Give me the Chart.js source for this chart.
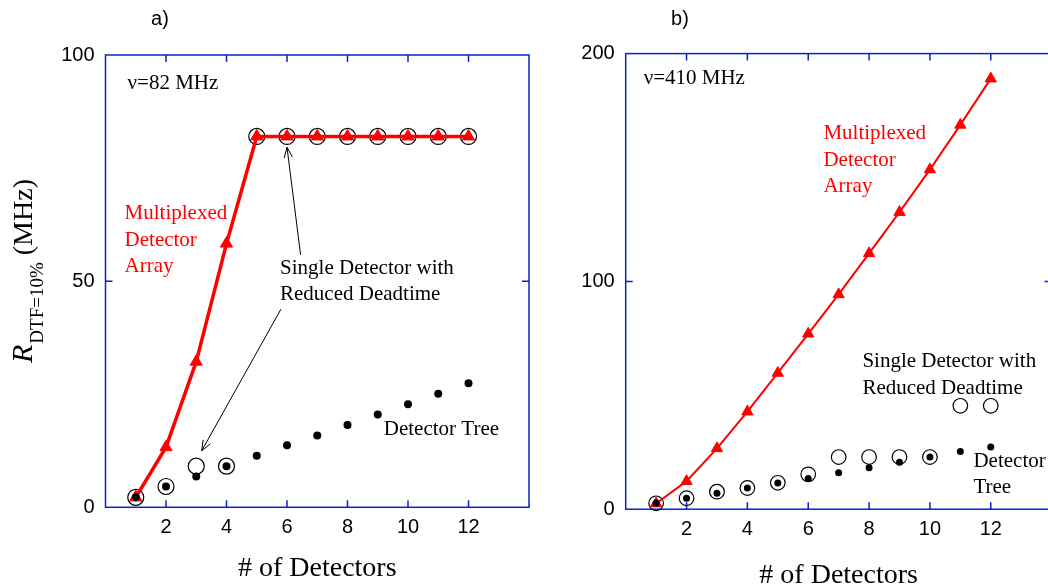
<!DOCTYPE html>
<html>
<head>
<meta charset="utf-8">
<script src="https://cdn.jsdelivr.net/npm/chart.js@4.4.1/dist/chart.umd.min.js"></script>
<style>
  html, body { margin: 0; padding: 0; background: #fff; overflow: hidden; width: 1048px; height: 588px; }
  #wrap { position: relative; width: 1048px; height: 588px; overflow: hidden; }
  #chartA { position: absolute; left: 0; top: 0; }
  #chartB { position: absolute; left: 532px; top: 0; }
</style>
</head>
<body>
<div id="wrap">
  <canvas id="chartA" width="534" height="588"></canvas>
  <canvas id="chartB" width="560" height="588"></canvas>
</div>
<script>
// number of detectors on the x axis
const detectors = [1, 2, 3, 4, 5, 6, 7, 8, 9, 10, 11, 12];
const xTickLabels = [2, 4, 6, 8, 10, 12];

// panel a) nu = 82 MHz
const aYTicks = [0, 50, 100];
const aMultiplexed = [2.2, 13.3, 32.2, 58.3, 82, 82, 82, 82, 82, 82, 82, 82];
const aSingle = [2.2, 4.6, 9.1, 9.1, 82, 82, 82, 82, 82, 82, 82, 82];
const aTree = [2.2, 4.6, 6.8, 9.1, 11.4, 13.7, 15.9, 18.2, 20.5, 22.8, 25.1, 27.4];

// panel b) nu = 410 MHz
const bYTicks = [0, 100, 200];
const bMultiplexed = [2.5, 12.3, 26.7, 42.8, 59.8, 77, 94.3, 112.3, 130.4, 149.1, 168.7, 189];
const bSingle = [2.6, 4.8, 7.7, 9.3, 11.6, 15.3, 22.9, 22.9, 22.9, 22.9, 45.4, 45.4];
const bTree = [2.6, 4.8, 7.0, 9.3, 11.5, 13.5, 16.0, 18.2, 20.6, 22.9, 25.3, 27.3];

const BLUE = "#0a22c8";
const RED = "#ff0000";
const SERIF = "'Liberation Serif', 'Times New Roman', serif";
const SANS = "'Liberation Sans', Arial, sans-serif";

function pairs(values) {
  return detectors.map((d, i) => ({ x: d, y: values[i] }));
}

// frame, inward ticks, annotations
const notesPlugin = {
  id: "notes",
  beforeDatasetsDraw(chart, args, opts) {
    const ctx = chart.ctx;
    const a = chart.chartArea;
    const xs = chart.scales.x;
    const ys = chart.scales.y;
    ctx.save();
    ctx.strokeStyle = BLUE;
    ctx.lineWidth = 1.5;
    ctx.strokeRect(a.left, a.top, a.right - a.left, a.bottom - a.top);
    ctx.beginPath();
    xTickLabels.forEach(v => {
      const px = xs.getPixelForValue(v);
      ctx.moveTo(px, a.top); ctx.lineTo(px, a.top + 7);
      ctx.moveTo(px, a.bottom); ctx.lineTo(px, a.bottom - 7);
    });
    opts.yTicks.slice(1, -1).forEach(v => {
      const py = ys.getPixelForValue(v);
      ctx.moveTo(a.left, py); ctx.lineTo(a.left + 7, py);
      ctx.moveTo(a.right, py); ctx.lineTo(a.right - 7, py);
    });
    ctx.stroke();
    ctx.restore();
  },
  afterDraw(chart, args, opts) {
    const ctx = chart.ctx;
    const a = chart.chartArea;
    const xs = chart.scales.x;
    const ys = chart.scales.y;
    ctx.save();

    // panel letter
    ctx.fillStyle = "#000";
    ctx.font = "20px " + SANS;
    ctx.textAlign = "center";
    ctx.textBaseline = "alphabetic";
    ctx.fillText(opts.panel, opts.panelX, 25);

    // x title
    ctx.font = "28px " + SERIF;
    ctx.fillText("# of Detectors", (a.left + a.right) / 2, opts.xTitleY);

    // text notes
    ctx.textAlign = "left";
    ctx.textBaseline = "middle";
    ctx.font = "21px " + SERIF;
    opts.texts.forEach(t => {
      ctx.fillStyle = t.color || "#000";
      const px = xs.getPixelForValue(t.x);
      t.lines.forEach((line, i) => {
        ctx.fillText(line, px, ys.getPixelForValue(t.y[i]));
      });
    });

    // arrows
    ctx.strokeStyle = "#000";
    ctx.lineWidth = 1;
    opts.arrows.forEach(ar => {
      const x1 = xs.getPixelForValue(ar.from[0]), y1 = ys.getPixelForValue(ar.from[1]);
      const x2 = xs.getPixelForValue(ar.to[0]), y2 = ys.getPixelForValue(ar.to[1]);
      const ang = Math.atan2(y2 - y1, x2 - x1);
      ctx.beginPath();
      ctx.moveTo(x1, y1); ctx.lineTo(x2, y2);
      ctx.moveTo(x2 - 11 * Math.cos(ang - 0.38), y2 - 11 * Math.sin(ang - 0.38));
      ctx.lineTo(x2, y2);
      ctx.lineTo(x2 - 11 * Math.cos(ang + 0.38), y2 - 11 * Math.sin(ang + 0.38));
      ctx.stroke();
    });

    // y title with subscript
    if (opts.yTitle) {
      ctx.fillStyle = "#000";
      ctx.translate(31.5, 363);
      ctx.rotate(-Math.PI / 2);
      ctx.textBaseline = "alphabetic";
      ctx.font = "italic 30px " + SERIF;
      ctx.fillText("R", 0, 0);
      const w1 = ctx.measureText("R").width + 1;
      ctx.font = "19px " + SERIF;
      ctx.fillText("DTF=10%", w1, 11);
      const w2 = ctx.measureText("DTF=10%").width;
      ctx.font = "28px " + SERIF;
      ctx.fillText(" (MHz)", w1 + w2, 0);
    }
    ctx.restore();
  }
};

function makeChart(id, cfg) {
  new Chart(document.getElementById(id), {
    type: "scatter",
    data: {
      datasets: [
        {
          label: "Detector Tree",
          data: pairs(cfg.tree),
          pointStyle: "circle",
          pointRadius: cfg.dotR,
          backgroundColor: "#000",
          borderColor: "#000",
          pointBorderWidth: 0,
          showLine: false,
          clip: false
        },
        {
          label: "Multiplexed Detector Array",
          data: pairs(cfg.mux),
          pointStyle: "triangle",
          pointRadius: cfg.triR,
          backgroundColor: RED,
          borderColor: RED,
          borderWidth: cfg.lineW,
          pointBorderWidth: 1,
          showLine: true,
          clip: false
        },
        {
          label: "Single Detector with Reduced Deadtime",
          data: pairs(cfg.single),
          pointStyle: "circle",
          pointRadius: cfg.circR,
          backgroundColor: "rgba(0,0,0,0)",
          borderColor: "#000",
          pointBorderWidth: 1.2,
          showLine: false,
          clip: false
        }
      ]
    },
    options: {
      responsive: false,
      animation: false,
      layout: { autoPadding: false, padding: { top: cfg.top, right: cfg.right, left: 0, bottom: 0 } },
      scales: {
        x: {
          type: "linear",
          min: 0,
          max: 14,
          afterFit(s) { s.height = cfg.xH; s.paddingLeft = 0; s.paddingRight = 0; },
          grid: { display: false, drawTicks: false },
          border: { display: false },
          ticks: {
            stepSize: 2,
            autoSkip: false,
            maxRotation: 0,
            padding: 8,
            color: "#000",
            font: { family: SANS, size: 20 },
            callback: v => (xTickLabels.includes(v) ? String(v) : "")
          }
        },
        y: {
          type: "linear",
          min: 0,
          max: cfg.yTicks[cfg.yTicks.length - 1],
          afterFit(s) { s.width = cfg.yW; s.paddingTop = 0; s.paddingBottom = 0; },
          grid: { display: false, drawTicks: false },
          border: { display: false },
          ticks: {
            stepSize: cfg.yTicks[1],
            padding: 11,
            color: "#000",
            font: { family: SANS, size: 20 },
            callback: v => (cfg.yTicks.includes(v) ? String(v) : "")
          }
        }
      },
      plugins: {
        legend: { display: false },
        tooltip: { enabled: false },
        notes: cfg.notes
      }
    },
    plugins: [notesPlugin]
  });
}

makeChart("chartA", {
  mux: aMultiplexed, single: aSingle, tree: aTree, yTicks: aYTicks,
  top: 55, right: 5, yW: 105.5, xH: 80.7,
  dotR: 4, triR: 7, circR: 8, lineW: 3.5,
  notes: {
    panel: "a)", panelX: 160, xTitleY: 576, yTitle: true, yTicks: aYTicks,
    texts: [
      { x: 0.73, y: [93.8], lines: ["\u03bd=82 MHz"] },
      { x: 0.63, y: [65.0, 59.1, 53.3], lines: ["Multiplexed", "Detector", "Array"], color: RED },
      { x: 5.77, y: [52.9, 47.1], lines: ["Single Detector with", "Reduced Deadtime"] },
      { x: 9.2, y: [17.1], lines: ["Detector Tree"] }
    ],
    arrows: [
      { from: [6.45, 55.8], to: [6.0, 79.6] },
      { from: [5.8, 43.8], to: [3.18, 12.5] }
    ]
  }
});

makeChart("chartB", {
  mux: bMultiplexed, single: bSingle, tree: bTree, yTicks: bYTicks,
  top: 53.6, right: 40.4, yW: 93.7, xH: 78.8,
  dotR: 3.5, triR: 6.5, circR: 7.3, lineW: 2,
  notes: {
    panel: "b)", panelX: 148, xTitleY: 583, yTitle: false, yTicks: bYTicks,
    texts: [
      { x: 0.59, y: [189.0], lines: ["\u03bd=410 MHz"] },
      { x: 6.5, y: [165.1, 153.1, 141.7], lines: ["Multiplexed", "Detector", "Array"], color: RED },
      { x: 7.78, y: [64.7, 52.9], lines: ["Single Detector with", "Reduced Deadtime"] },
      { x: 11.43, y: [21.1, 9.6], lines: ["Detector", "Tree"] }
    ],
    arrows: []
  }
});
</script>
</body>
</html>
